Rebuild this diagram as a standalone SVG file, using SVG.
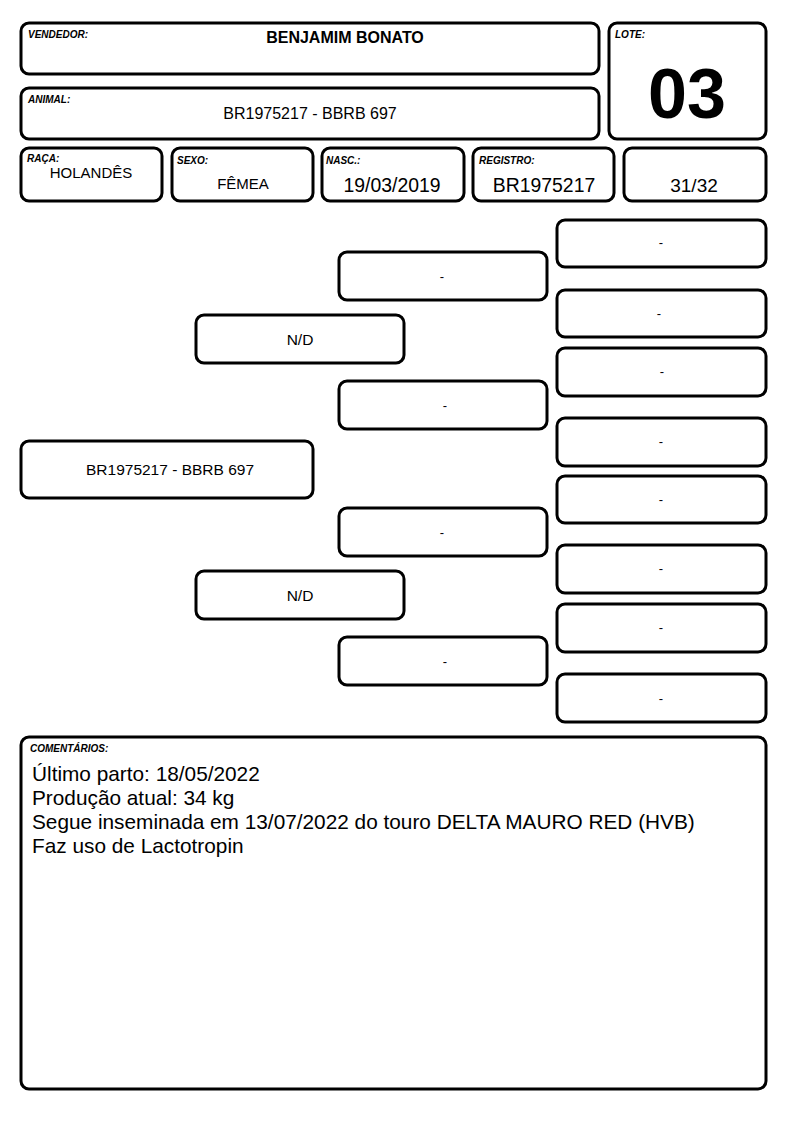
<svg xmlns="http://www.w3.org/2000/svg" width="794" height="1123" viewBox="0 0 794 1123">
<style>
.b{fill:#fff;stroke:#000;stroke-width:3}
.lb{font-family:"Liberation Sans",Arial,sans-serif;font-size:10px;font-weight:bold;font-style:italic;fill:#000}
.t{font-family:"Liberation Sans",Arial,sans-serif;fill:#000;text-anchor:middle}
.p{font-family:"Liberation Sans",Arial,sans-serif;font-size:15.5px;fill:#000;text-anchor:middle}
.d{font-family:"Liberation Sans",Arial,sans-serif;font-size:13px;fill:#000;text-anchor:middle}
.c{font-family:"Liberation Sans",Arial,sans-serif;font-size:20.8px;fill:#000}
</style>
<rect width="794" height="1123" fill="#fff"/>
<g id="vendedor"><rect class="b" x="21" y="23" width="578" height="51" rx="8"/><text class="lb" x="28" y="38">VENDEDOR:</text><text class="t" x="345" y="43" font-size="16" font-weight="bold">BENJAMIM BONATO</text></g>
<g id="animal"><rect class="b" x="21" y="88" width="578" height="51" rx="8"/><text class="lb" x="28" y="103">ANIMAL:</text><text class="t" x="310" y="119" font-size="16">BR1975217 - BBRB 697</text></g>
<g id="lote"><rect class="b" x="609" y="23" width="157" height="116" rx="8"/><text class="lb" x="615" y="38">LOTE:</text><text class="t" x="687" y="118" font-size="70" font-weight="bold">03</text></g>
<g id="raca"><rect class="b" x="21" y="148" width="141" height="53" rx="8"/><text class="lb" x="27" y="162">RAÇA:</text><text class="t" x="91" y="178" font-size="15">HOLANDÊS</text></g>
<g id="sexo"><rect class="b" x="172" y="148" width="141" height="53" rx="8"/><text class="lb" x="177" y="164">SEXO:</text><text class="t" x="243" y="189" font-size="15">FÊMEA</text></g>
<g id="nasc"><rect class="b" x="322" y="148" width="142" height="53" rx="8"/><text class="lb" x="326" y="164">NASC.:</text><text class="t" x="392" y="192" font-size="19.4">19/03/2019</text></g>
<g id="registro"><rect class="b" x="473" y="148" width="141" height="53" rx="8"/><text class="lb" x="479" y="164">REGISTRO:</text><text class="t" x="544" y="192" font-size="19.4">BR1975217</text></g>
<g id="fracao"><rect class="b" x="624" y="148" width="142" height="53" rx="8"/><text class="t" x="694" y="192" font-size="19">31/32</text></g>
<g id="connectors"></g>
<g id="p0"><rect class="b" x="21" y="441" width="292" height="57" rx="8"/><text class="p" x="170" y="475" font-size="16">BR1975217 - BBRB 697</text></g>
<g id="p1"><rect class="b" x="196" y="315" width="208" height="48" rx="8"/><text class="p" x="300" y="345">N/D</text></g>
<g id="p2"><rect class="b" x="196" y="571" width="208" height="48" rx="8"/><text class="p" x="300" y="601">N/D</text></g>
<g id="p3"><rect class="b" x="339" y="252" width="208" height="48" rx="8"/><text class="d" x="442" y="281">-</text></g>
<g id="p4"><rect class="b" x="339" y="381" width="208" height="48" rx="8"/><text class="d" x="445" y="410">-</text></g>
<g id="p5"><rect class="b" x="339" y="508" width="208" height="48" rx="8"/><text class="d" x="442" y="537">-</text></g>
<g id="p6"><rect class="b" x="339" y="637" width="208" height="48" rx="8"/><text class="d" x="445" y="666">-</text></g>
<g id="p7"><rect class="b" x="557" y="220" width="209" height="47" rx="8"/><text class="d" x="661" y="247">-</text></g>
<g id="p8"><rect class="b" x="557" y="290" width="209" height="47" rx="8"/><text class="d" x="659" y="318">-</text></g>
<g id="p9"><rect class="b" x="557" y="348" width="209" height="48" rx="8"/><text class="d" x="662" y="376">-</text></g>
<g id="p10"><rect class="b" x="557" y="418" width="209" height="48" rx="8"/><text class="d" x="661" y="446">-</text></g>
<g id="p11"><rect class="b" x="557" y="476" width="209" height="47" rx="8"/><text class="d" x="661" y="504">-</text></g>
<g id="p12"><rect class="b" x="557" y="545" width="209" height="48" rx="8"/><text class="d" x="661" y="573">-</text></g>
<g id="p13"><rect class="b" x="557" y="604" width="209" height="48" rx="8"/><text class="d" x="661" y="632">-</text></g>
<g id="p14"><rect class="b" x="557" y="674" width="209" height="48" rx="8"/><text class="d" x="661" y="703">-</text></g>
<g id="comentarios"><rect class="b" x="21" y="737" width="745" height="352" rx="8"/><text class="lb" x="30" y="752">COMENTÁRIOS:</text>
<text class="c" x="32" y="781">Último parto: 18/05/2022</text>
<text class="c" x="32" y="805">Produção atual: 34 kg</text>
<text class="c" x="32" y="829">Segue inseminada em 13/07/2022 do touro DELTA MAURO RED (HVB)</text>
<text class="c" x="32" y="853">Faz uso de Lactotropin</text></g>
</svg>
